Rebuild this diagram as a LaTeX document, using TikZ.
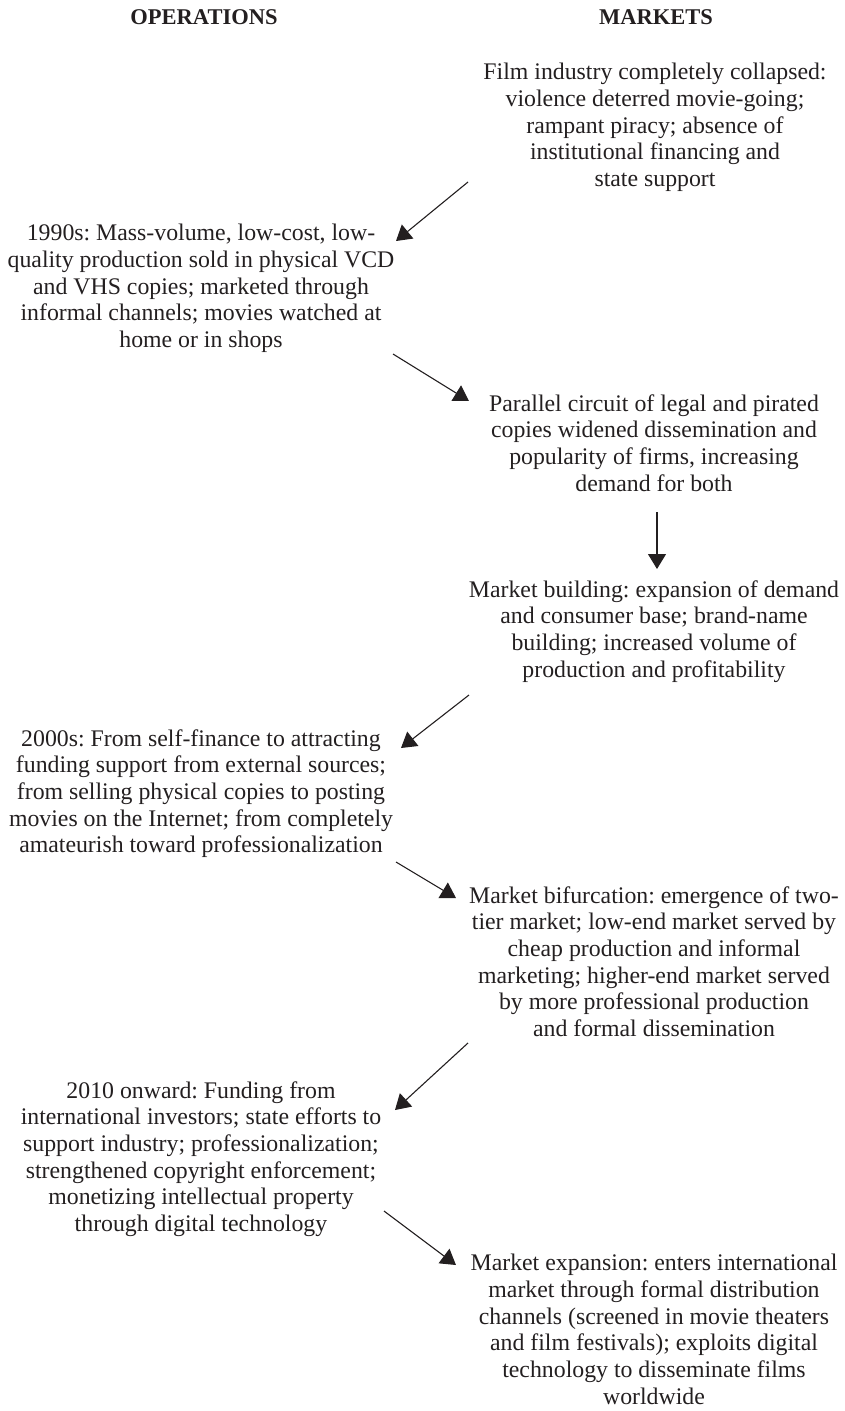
\documentclass[tikz,border=0pt]{standalone}
\usepackage{fontspec}
\setmainfont{Liberation Serif}
\usetikzlibrary{arrows.meta}
\definecolor{ink}{RGB}{35,31,32}
\frenchspacing
\begin{document}
\begin{tikzpicture}[x=1pt,y=-1pt,
  every node/.style={inner sep=0pt,outer sep=0pt,text=ink},
  heading/.style={font=\fontsize{22.5}{26.7}\selectfont\bfseries,anchor=base},
  stage/.style={align=center,anchor=north,
    font=\fontsize{23.8}{26.7}\selectfont,
    execute at begin node=\strut},
  link/.style={draw=ink,line width=1.1pt,
    -{Triangle[length=15pt,width=18pt]}}]
\useasboundingbox (0,0) rectangle (844,1411);

% column headings
\node[heading] (hops) at (204,24) {OPERATIONS};
\node[heading] (hmkt) at (656,24) {MARKETS};

% stages (north anchor sits 0.7 baselineskip above the first baseline)
\node[stage] (m1) at (655,63.3) {Film industry completely collapsed:\\
  violence deterred movie-going;\\ rampant piracy; absence of\\
  institutional financing and\\ state support};
\node[stage] (o1) at (201,224.3) {1990s: Mass-volume, low-cost, low-\\
  quality production sold in physical VCD\\ and VHS copies; marketed through\\
  informal channels; movies watched at\\ home or in shops};
\node[stage] (m2) at (654,394.3) {Parallel circuit of legal and pirated\\
  copies widened dissemination and\\ popularity of firms, increasing\\
  demand for both};
\node[stage] (m3) at (654,580.3) {Market building: expansion of demand\\
  and consumer base; brand-name\\ building; increased volume of\\
  production and profitability};
\node[stage] (o2) at (201,729.3) {2000s: From self-finance to attracting\\
  funding support from external sources;\\ from selling physical copies to posting\\
  movies on the Internet; from completely\\ amateurish toward professionalization};
\node[stage] (m4) at (654,886.3) {Market bifurcation: emergence of two-\\
  tier market; low-end market served by\\ cheap production and informal\\
  marketing; higher-end market served\\ by more professional production\\
  and formal dissemination};
\node[stage] (o3) at (201,1081.3) {2010 onward: Funding from\\
  international investors; state efforts to\\ support industry; professionalization;\\
  strengthened copyright enforcement;\\ monetizing intellectual property\\
  through digital technology};
\node[stage] (m5) at (654,1254.3) {Market expansion: enters international\\
  market through formal distribution\\ channels (screened in movie theaters\\
  and film festivals); exploits digital\\ technology to disseminate films\\
  worldwide};

% connectors
\draw[link] ([shift={(-187,118.7)}]m1.north) -- ([shift={(195,16.7)}]o1.north);
\draw[link] ([shift={(192,129.7)}]o1.north) -- ([shift={(-185,6.7)}]m2.north);
\draw[link] ([shift={(3,117.7)}]m2.north) -- ([shift={(3,-11.3)}]m3.north);
\draw[link] ([shift={(-185,114.7)}]m3.north) -- ([shift={(200,18.7)}]o2.north);
\draw[link] ([shift={(195,132.7)}]o2.north) -- ([shift={(-198,11.7)}]m4.north);
\draw[link] ([shift={(-186,156.7)}]m4.north) -- ([shift={(194,28.7)}]o3.north);
\draw[link] ([shift={(183,129.7)}]o3.north) -- ([shift={(-198,10.7)}]m5.north);
\end{tikzpicture}
\end{document}
